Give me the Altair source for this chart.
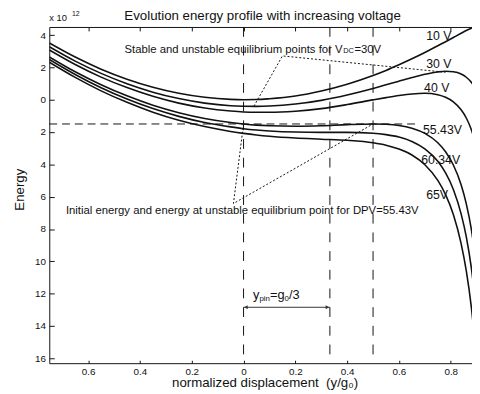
import altair as alt
import pandas as pd

FONT = "Liberation Sans"
INK = "#111111"

# ---- data (energy in units of 1e-12) ----
xs = [-0.75, -0.65, -0.55, -0.45, -0.35, -0.25, -0.15, -0.05, 0.0, 0.05, 0.1, 0.2, 0.3,
      0.4, 0.5, 0.55, 0.6, 0.65, 0.7, 0.75, 0.78, 0.81, 0.84, 0.86, 0.88, 0.9]
e_10 = [3.51, 2.64, 1.89, 1.27, 0.77, 0.40, 0.15, 0.02, 0.00, 0.01, 0.06, 0.23, 0.54,
        0.96, 1.50, 1.81, 2.16, 2.53, 2.92, 3.34, 3.59, 3.85, 4.11, 4.28, 4.43, 4.57]
e_30 = [3.28, 2.39, 1.63, 0.99, 0.47, 0.07, -0.21, -0.37, -0.40, -0.41, -0.39, -0.27, -0.04,
        0.29, 0.69, 0.92, 1.15, 1.37, 1.57, 1.72, 1.76, 1.73, 1.59, 1.39, 1.07, 0.53]
e_40 = [3.08, 2.18, 1.40, 0.75, 0.21, -0.21, -0.51, -0.70, -0.76, -0.78, -0.78, -0.71, -0.55,
        -0.30, -0.01, 0.13, 0.26, 0.36, 0.40, 0.31, 0.15, -0.13, -0.62, -1.13, -1.88, -3.00]
e_5543 = [2.65, 1.73, 0.93, 0.24, -0.34, -0.80, -1.16, -1.41, -1.50, -1.57, -1.61, -1.64, -1.61,
          -1.54, -1.50, -1.52, -1.59, -1.76, -2.08, -2.66, -3.22, -4.04, -5.26, -6.44, -8.07, -10.43]
e_6034 = [2.49, 1.56, 0.74, 0.04, -0.55, -1.03, -1.41, -1.68, -1.79, -1.87, -1.93, -2.00, -2.02,
          -2.02, -2.07, -2.16, -2.31, -2.58, -3.04, -3.81, -4.53, -5.55, -7.06, -8.49, -10.46, -13.30]
e_65 = [2.32, 1.38, 0.55, -0.16, -0.77, -1.27, -1.66, -1.96, -2.08, -2.18, -2.26, -2.37, -2.44,
        -2.51, -2.66, -2.81, -3.05, -3.42, -4.02, -4.99, -5.87, -7.10, -8.90, -10.59, -12.91, -16.24]

series_names = ["10 V", "30 V", "40 V", "55.43V", "60.34V", "65V"]
series_vals = [e_10, e_30, e_40, e_5543, e_6034, e_65]

label_x = [0.705, 0.705, 0.697, 0.693, 0.686, 0.705]
label_y = [3.70, 1.99, 0.47, -2.09, -3.98, -6.12]

x_ticks = [-0.6, -0.4, -0.2, 0, 0.2, 0.4, 0.6, 0.8]
y_ticks = [-16, -14, -12, -10, -8, -6, -4, -2, 0, 2, 4]

vlines_x = [0.0, 0.3333, 0.5]
hline_y = -1.5
hline_x = [-0.75, 0.68]

# dotted leader lines (annotation anchors)
lead_upper_x = [0.04, 0.150, 0.78]
lead_upper_y = [-0.40, 2.71, 1.70]
lead_lower_x = [0.0, -0.039, 0.5]
lead_lower_y = [-1.50, -6.42, -1.50]

ypin_y = -12.84
# ------------------------------------------------------------------

rows = []
for name, vals in zip(series_names, series_vals):
    for x, e in zip(xs, vals):
        rows.append({"x": x, "E": e, "V": name})
curves_df = pd.DataFrame(rows)

xscale = alt.Scale(domain=[-0.75, 0.882], nice=False, zero=False)
yscale = alt.Scale(domain=[-16.3, 4.5], nice=False, zero=False)

x_main_axis = alt.Axis(
    orient="bottom", values=x_ticks, ticks=False, domain=True, domainColor=INK, grid=False,
    labelExpr="datum.value == 0 ? '0' : format(abs(datum.value), '.1f')",
    labelFont=FONT, labelFontSize=10, labelColor=INK, labelPadding=3,
    title="normalized displacement\u00a0 (y/g₀)", titleFont=FONT, titleFontSize=13.5,
    titleFontWeight="normal", titleColor=INK, titleBaseline="alphabetic", titleY=24, titleX=219,
)
y_main_axis = alt.Axis(
    orient="left", values=y_ticks, ticks=False, domain=True, domainColor=INK, grid=False,
    labelExpr="format(abs(datum.value), 'd')",
    labelFont=FONT, labelFontSize=10, labelColor=INK, labelPadding=4,
    title="Energy", titleFont=FONT, titleFontSize=13.5, titleFontWeight="normal",
    titleColor=INK, titleAngle=270, titleBaseline="alphabetic", titleX=-26, titleY=165,
)
x_bottom_ticks = alt.Axis(orient="bottom", values=x_ticks, labels=False, domain=False,
                          ticks=True, tickSize=3, offset=-3, tickColor=INK, grid=False, title=None)
y_left_ticks = alt.Axis(orient="left", values=y_ticks, labels=False, domain=False,
                        ticks=True, tickSize=5, offset=-5, tickColor=INK, grid=False, title=None)
x_top_ticks = alt.Axis(orient="top", values=x_ticks, labels=False, domain=False,
                       ticks=True, tickSize=4, offset=-4, tickColor=INK, grid=False, title=None)
x_top_border = alt.Axis(orient="top", labels=False, ticks=False, domain=True,
                        domainColor=INK, grid=False, title=None)

curves = alt.Chart(curves_df).mark_line(
    color=INK, strokeWidth=1.6, clip=True, interpolate="monotone"
).encode(
    x=alt.X("x:Q", scale=xscale, axis=x_main_axis),
    y=alt.Y("E:Q", scale=yscale, axis=y_main_axis),
    detail="V:N",
)

hline = alt.Chart(pd.DataFrame({"x": [hline_x[0]], "x2": [hline_x[1]], "y": [hline_y]})).mark_rule(
    color=INK, strokeWidth=1, strokeDash=[8, 5]
).encode(
    x=alt.X("x:Q", scale=xscale, axis=x_bottom_ticks),
    x2="x2:Q",
    y=alt.Y("y:Q", scale=yscale, axis=y_left_ticks),
)

vlines = alt.Chart(pd.DataFrame({"x": vlines_x})).mark_rule(
    color=INK, strokeWidth=1, strokeDash=[10, 9]
).encode(x=alt.X("x:Q", scale=xscale, axis=x_top_ticks))

labels = alt.Chart(pd.DataFrame({"x": label_x, "y": label_y, "t": series_names})).mark_text(
    align="left", baseline="alphabetic", font=FONT, fontSize=12.5, color=INK
).encode(
    x=alt.X("x:Q", scale=xscale, axis=x_top_border),
    y=alt.Y("y:Q", scale=yscale, axis=None),
    text="t:N",
)

lead_rows = (
    [{"x": a, "y": b, "g": "u", "o": i} for i, (a, b) in enumerate(zip(lead_upper_x, lead_upper_y))]
    + [{"x": a, "y": b, "g": "l", "o": i} for i, (a, b) in enumerate(zip(lead_lower_x, lead_lower_y))]
)
leaders = alt.Chart(pd.DataFrame(lead_rows)).mark_line(
    color=INK, strokeWidth=1, strokeDash=[2, 2]
).encode(
    x=alt.X("x:Q", scale=xscale, axis=None),
    y=alt.Y("y:Q", scale=yscale, axis=None),
    detail="g:N",
    order="o:Q",
)


def txt(items, align="left", size=11.5):
    df = pd.DataFrame(items, columns=["x", "y", "t"])
    return alt.Chart(df).mark_text(
        align=align, baseline="alphabetic", font=FONT, fontSize=size, color=INK
    ).encode(
        x=alt.X("x:Q", scale=xscale, axis=None),
        y=alt.Y("y:Q", scale=yscale, axis=None),
        text="t:N",
    )


ann_main = txt([(0.382, 2.91, "Stable and unstable equilibrium points for V")], align="right")
ann_dc = txt([(0.385, 2.86, "DC")], size=7.5)
ann_30 = txt([(0.428, 2.91, "=30V")])
ann_low = txt([(-0.005, -7.09, "Initial energy and energy at unstable equilibrium point for DPV=55.43V")],
              align="center")
ypin_big = txt([(0.0368, -12.34, "y"), (0.102, -12.34, "=g"), (0.175, -12.34, "/3")], size=13)
ypin_small = txt([(0.0615, -12.46, "pin"), (0.158, -12.46, "0")], size=8)

arrow = alt.Chart(pd.DataFrame({"x": [0.0], "x2": [0.3333], "y": [ypin_y]})).mark_rule(
    color="#333333", strokeWidth=1
).encode(
    x=alt.X("x:Q", scale=xscale, axis=None), x2="x2:Q",
    y=alt.Y("y:Q", scale=yscale, axis=None),
)
heads = alt.Chart(pd.DataFrame({"x": [0.0095, 0.3238], "y": [ypin_y, ypin_y],
                                "s": ["triangle-left", "triangle-right"]})).mark_point(
    filled=True, color="#333333", size=16, opacity=1
).encode(
    x=alt.X("x:Q", scale=xscale, axis=None),
    y=alt.Y("y:Q", scale=yscale, axis=None),
    shape=alt.Shape("s:N", scale=None, legend=None),
)

one = pd.DataFrame({"k": [0]})
title = alt.Chart(one).mark_text(
    text="Evolution energy profile with increasing voltage", align="center", baseline="alphabetic",
    font=FONT, fontSize=13.5, color=INK
).encode(x=alt.value(217), y=alt.value(-7))
exp10 = alt.Chart(one).mark_text(
    text="x 10", align="left", baseline="alphabetic", font=FONT, fontSize=9.5, color=INK
).encode(x=alt.value(0), y=alt.value(-6))
exp12 = alt.Chart(one).mark_text(
    text="12", align="left", baseline="alphabetic", font=FONT, fontSize=7, color=INK
).encode(x=alt.value(23), y=alt.value(-11))

chart = alt.layer(
    curves, hline, vlines, labels, leaders, ann_main, ann_dc, ann_30, ann_low,
    ypin_big, ypin_small, arrow, heads, title, exp10, exp12
).resolve_axis(
    x="independent", y="independent"
).properties(
    width=430, height=342,
    padding={"left": 42, "top": 16, "right": 0, "bottom": 27},
    autosize=alt.AutoSizeParams(type="none"),
    background="white",
).configure_view(stroke=None)

chart.save("out.html", embed_options={"renderer": "svg", "actions": False})
